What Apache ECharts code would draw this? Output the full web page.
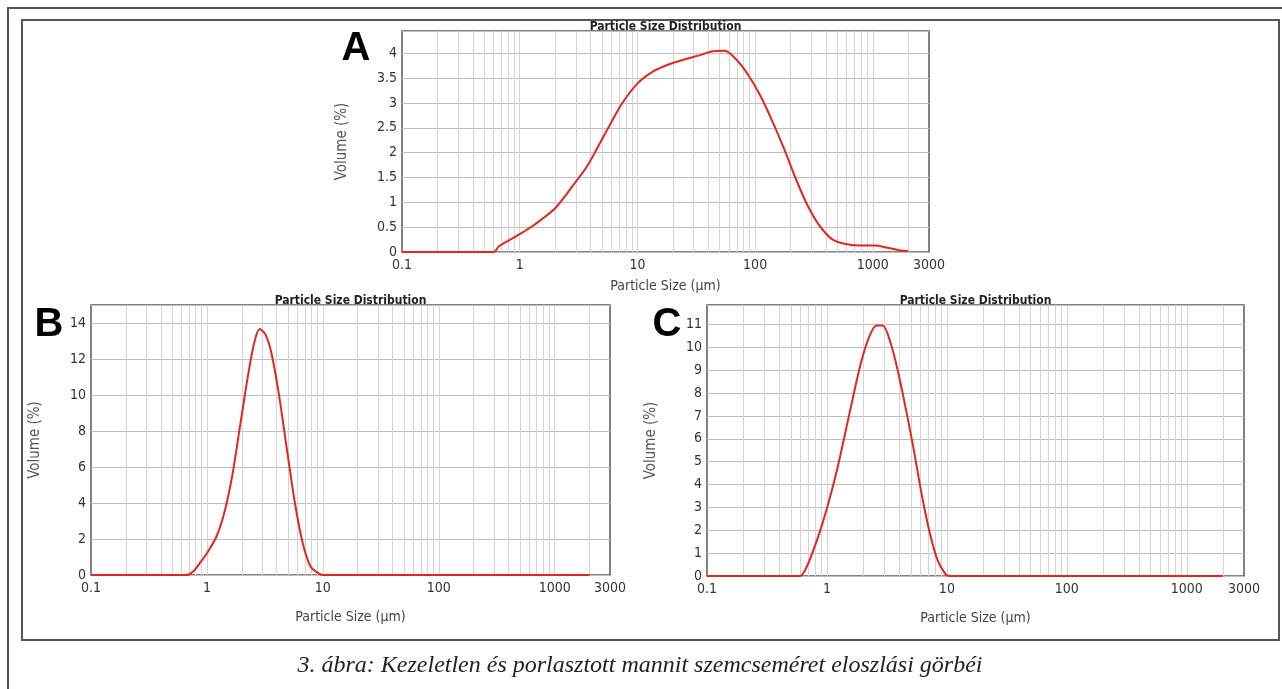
<!DOCTYPE html>
<html>
<head>
<meta charset="utf-8">
<script src="https://cdn.jsdelivr.net/npm/echarts@6/dist/echarts.min.js"></script>
<style>
html, body { margin: 0; padding: 0; background: #fff; }
#chart { width: 1282px; height: 689px; }
</style>
</head>
<body>
<div id="chart"></div>
<script>
"use strict";

// A: kezeletlen mannit
var sizeA = [0.1, 0.6, 0.67, 1, 1.35, 2, 2.9, 3.7, 4.6, 5.9, 7.4, 10, 13.7, 18.6, 25.4, 34.6, 43.7, 55, 69.5, 87.6, 110, 139, 176, 222, 280, 352, 444, 560, 765, 1040, 1310, 1720, 2000];
var volA = [0, 0, 0.12, 0.36, 0.56, 0.88, 1.37, 1.71, 2.11, 2.58, 2.99, 3.39, 3.64, 3.78, 3.88, 3.97, 4.04, 4.05, 3.87, 3.56, 3.16, 2.65, 2.08, 1.47, 0.93, 0.53, 0.27, 0.17, 0.13, 0.13, 0.09, 0.03, 0.02];

// B, C: porlasztott minták
var sizeB = [0.1, 0.675, 0.76, 0.886, 1, 1.21, 1.41, 1.65, 1.93, 2.26, 2.54, 2.85, 3.19, 3.59, 4.2, 4.9, 5.74, 6.71, 7.85, 9.2, 10, 2000];
var volB = [0, 0, 0.19, 0.74, 1.21, 2.14, 3.44, 5.48, 8.27, 11.06, 12.8, 13.66, 13.38, 12.36, 9.94, 6.97, 4.0, 1.77, 0.46, 0.09, 0, 0];

var sizeC = [0.1, 0.593, 0.664, 0.77, 0.9, 1.03, 1.22, 1.41, 1.65, 1.92, 2.24, 2.59, 2.91, 3.39, 3.94, 4.58, 5.33, 6.2, 7.22, 8.4, 9.78, 10.6, 2000];
var volC = [0, 0, 0.3, 1.12, 2.16, 3.2, 4.69, 6.18, 7.82, 9.31, 10.43, 10.95, 10.95, 10.2, 8.87, 7.23, 5.44, 3.5, 1.86, 0.67, 0.07, 0, 0];

// tengelyek
var xRange = [0.1, 3000];
var yMax = [4.45, 15, 11.85];
var yStep = [0.5, 2, 1];
var panelLetters = ["A", "B", "C"];
var chartTitle = "Particle Size Distribution";
var xName = "Particle Size (\u00b5m)";
var yName = "Volume (%)";
var caption = "3. ábra: Kezeletlen és porlasztott mannit szemcseméret eloszlási görbéi";

// függőleges rácsvonalak (1..9 x dekád)
var gridLines = [];
for (var d = -1; d <= 3; d++) {
  for (var k = 1; k <= 9; k++) {
    var v = +(k * Math.pow(10, d)).toPrecision(3);
    if (v > xRange[0] && v < xRange[1]) gridLines.push(v);
  }
}

var FONT = "'DejaVu Sans Condensed', 'DejaVu Sans', sans-serif";
var RED = "#e5261c";

var grids = [
  { left: 402, top: 31, width: 527, height: 221 },
  { left: 91, top: 305, width: 519, height: 270 },
  { left: 707, top: 305, width: 537, height: 271 }
];
var letterPos = [[356, 49], [49, 325], [667, 325]];

function pairs(xs, ys) {
  return xs.map(function (x, i) { return [x, ys[i]]; });
}

var myChart = echarts.init(document.getElementById("chart"));

var option = {
  animation: false,
  backgroundColor: "#fff",
  title: grids.map(function (g) {
    return {
      text: chartTitle,
      left: g.left + g.width / 2,
      top: g.top - 10,
      textAlign: "center",
      padding: 0,
      textStyle: { fontFamily: FONT, fontSize: 12, fontWeight: "bold", color: "#222" }
    };
  }),
  grid: grids.map(function (g) {
    return {
      left: g.left, top: g.top, width: g.width, height: g.height,
      show: true, borderColor: "#5a5a5a", borderWidth: 1.5, backgroundColor: "transparent"
    };
  }),
  xAxis: grids.map(function (g, i) {
    return {
      type: "log",
      logBase: 10,
      gridIndex: i,
      min: xRange[0],
      max: xRange[1],
      name: xName,
      nameLocation: "middle",
      nameGap: i === 0 ? 27 : 35,
      nameTextStyle: { fontFamily: FONT, fontSize: 14, color: "#444" },
      axisLine: { show: false },
      axisTick: { show: false },
      splitLine: { show: false },
      axisLabel: {
        margin: 6,
        fontFamily: FONT, fontSize: 14, color: "#333",
        showMinLabel: true, showMaxLabel: true,
        formatter: function (val) { return String(+(+val).toPrecision(4)); }
      }
    };
  }),
  yAxis: grids.map(function (g, i) {
    return {
      type: "value",
      gridIndex: i,
      min: 0,
      max: yMax[i],
      interval: yStep[i],
      name: yName,
      nameLocation: "middle",
      nameRotate: 90,
      nameGap: i === 0 ? 52 : 48,
      nameTextStyle: { fontFamily: FONT, fontSize: 15, color: "#555" },
      axisLine: { show: false },
      axisTick: { show: false },
      splitLine: { show: true, lineStyle: { color: "#bfbfbf", width: 1.2 } },
      axisLabel: {
        margin: 5,
        fontFamily: FONT, fontSize: 14, color: "#333",
        showMaxLabel: false
      }
    };
  }),
  series: [],
  graphic: [
    // keretek
    { type: "polyline", silent: true, shape: { points: [[8, 689], [8, 8], [1282, 8]] },
      style: { stroke: "#555", lineWidth: 2, fill: null } },
    { type: "rect", silent: true, shape: { x: 22, y: 20, width: 1257, height: 620 },
      style: { stroke: "#555", lineWidth: 2, fill: null } },
    { type: "text", silent: true, x: 640, y: 666,
      style: { text: caption, font: "italic 24px 'Liberation Serif', serif", fill: "#222",
        textAlign: "center", textVerticalAlign: "middle" } }
  ]
};

panelLetters.forEach(function (t, i) {
  option.graphic.push({
    type: "text", silent: true, x: letterPos[i][0], y: letterPos[i][1],
    style: { text: t, font: "bold 40px 'Liberation Sans', Arial, sans-serif", fill: "#000",
      textAlign: "center", textVerticalAlign: "middle" }
  });
});

[[sizeA, volA], [sizeB, volB], [sizeC, volC]].forEach(function (s, i) {
  // rácsvonalak külön sorozatban, a görbe alatt
  option.series.push({
    type: "line",
    xAxisIndex: i,
    yAxisIndex: i,
    data: [],
    silent: true,
    z: 1,
    markLine: {
      silent: true,
      symbol: ["none", "none"],
      label: { show: false },
      lineStyle: { type: "solid", color: "#d4d4d4", width: 1 },
      data: gridLines.map(function (v) { return { xAxis: v }; })
    }
  });
  option.series.push({
    type: "line",
    xAxisIndex: i,
    yAxisIndex: i,
    z: 5,
    data: pairs(s[0], s[1]),
    showSymbol: false,
    smooth: 0.3,
    lineStyle: { color: RED, width: 2 },
    itemStyle: { color: RED }
  });
});

myChart.setOption(option);

window.onresize = function () {
  myChart.resize();
};
</script>
</body>
</html>
